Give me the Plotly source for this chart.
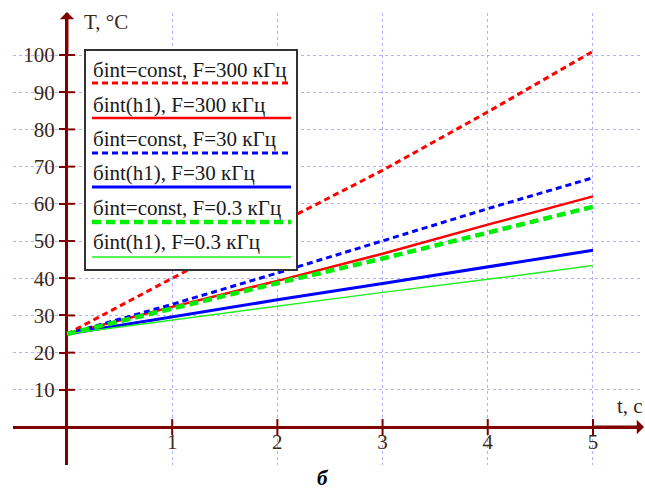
import plotly.graph_objects as go

# ---- data ----
t = [0, 1, 2, 3, 4, 5]
names = [
    "бint=const, F=300 кГц",
    "бint(h1), F=300 кГц",
    "бint=const, F=30 кГц",
    "бint(h1), F=30 кГц",
    "бint=const, F=0.3 кГц",
    "бint(h1), F=0.3 кГц",
]
T_const_300 = [25, 40.0, 54.5, 69.0, 84.7, 101.0]
T_h1_300 = [25, 32.3, 39.3, 46.6, 54.4, 62.0]
T_const_30 = [25, 33.0, 41.4, 50.0, 58.7, 67.0]
T_h1_30 = [25, 29.7, 34.2, 38.6, 43.0, 47.5]
T_const_03 = [25, 32.0, 38.7, 45.3, 52.1, 59.2]
T_h1_03 = [25, 28.8, 32.5, 36.2, 39.7, 43.4]
series = [T_const_300, T_h1_300, T_const_30, T_h1_30, T_const_03, T_h1_03]

x_ticks = [1, 2, 3, 4, 5]
y_ticks = [10, 20, 30, 40, 50, 60, 70, 80, 90, 100]

styles = [
    dict(color="#ff0000", width=3, dash="6px,4px"),
    dict(color="#ff0000", width=2.5, dash="solid"),
    dict(color="#0000ff", width=3, dash="6px,4px"),
    dict(color="#0000ff", width=3, dash="solid"),
    dict(color="#00ee00", width=4.5, dash="9px,5px"),
    dict(color="#22ee22", width=1.5, dash="solid"),
]

AX = "#800000"
TXT = "#3a2818"
FONT = "Liberation Serif, Times New Roman, serif"
FS = 21

XR = [-0.513, 5.447]
YR = [-10.2, 111.29]
L, T_, W, H = 13, 13, 627, 452

def px2x(px):
    return (px - L) / W

def py2y(py):
    return (T_ + H - py) / H

fig = go.Figure()
for s, nm, st in zip(series, names, styles):
    fig.add_trace(go.Scatter(x=t, y=s, mode="lines", name=nm, line=st, hoverinfo="skip"))

xpxu = W / (XR[1] - XR[0])
ypxu = H / (YR[1] - YR[0])

shapes = []
# tick marks crossing the axes
for v in y_ticks:
    shapes.append(dict(type="line", xref="x", yref="y", x0=0, x1=8 / xpxu, y0=v, y1=v,
                       line=dict(color=AX, width=2)))
for v in x_ticks:
    shapes.append(dict(type="line", xref="x", yref="y", x0=v, x1=v, y0=-8 / ypxu, y1=8 / ypxu,
                       line=dict(color=AX, width=2)))

# legend box
lx0, lx1, ly0, ly1 = 85, 297, 50, 270
shapes.append(dict(type="rect", xref="paper", yref="paper", x0=px2x(lx0), x1=px2x(lx1),
                   y0=py2y(ly1), y1=py2y(ly0), fillcolor="white",
                   line=dict(color="#333333", width=2), layer="above"))
text_y = [70, 105, 139, 173, 208, 242]
samp_y = [83, 118, 153, 187, 222, 257]
annotations = []
for nm, st, ty, sy in zip(names, styles, text_y, samp_y):
    annotations.append(dict(text=nm, xref="paper", yref="paper", x=px2x(91), y=py2y(ty),
                            xanchor="left", yanchor="middle", showarrow=False,
                            font=dict(family=FONT, size=FS, color="#1a1a1a")))
    shapes.append(dict(type="line", xref="paper", yref="paper", x0=px2x(92), x1=px2x(291),
                       y0=py2y(sy), y1=py2y(sy), layer="above",
                       line=dict(color=st["color"], width=st["width"], dash=st["dash"])))

# axis arrows
annotations.append(dict(x=0, y=(427 - 12) / 3.72, ax=0, ay=100, xref="x", yref="y",
                        axref="x", ayref="y", text="", showarrow=True, arrowhead=1,
                        arrowsize=0.8, arrowwidth=3, arrowcolor=AX))
annotations.append(dict(x=(644 - 67) / 105.2, y=0, ax=5, ay=0, xref="x", yref="y",
                        axref="x", ayref="y", text="", showarrow=True, arrowhead=1,
                        arrowsize=0.8, arrowwidth=3, arrowcolor=AX))
# axis titles
annotations.append(dict(text="T, °C", xref="paper", yref="paper", x=px2x(82), y=py2y(22),
                        xanchor="left", yanchor="middle", showarrow=False,
                        font=dict(family=FONT, size=FS, color=TXT)))
annotations.append(dict(text="t, с", xref="paper", yref="paper", x=px2x(615), y=py2y(406),
                        xanchor="left", yanchor="middle", showarrow=False,
                        font=dict(family=FONT, size=FS, color=TXT)))
annotations.append(dict(text="<b><i>б</i></b>", xref="paper", yref="paper", x=px2x(323),
                        y=py2y(478), xanchor="center", yanchor="middle", showarrow=False,
                        font=dict(family=FONT, size=FS, color="#000000")))

fig.update_layout(
    width=645, height=491,
    margin=dict(l=L, r=645 - L - W, t=T_, b=491 - T_ - H),
    paper_bgcolor="white", plot_bgcolor="white", showlegend=False,
    xaxis=dict(range=XR, tickvals=x_ticks, ticktext=[str(v) for v in x_ticks],
               showgrid=True, gridcolor="#b0b0ff", griddash="dot", gridwidth=1,
               zeroline=True, zerolinecolor=AX, zerolinewidth=3, showline=False,
               ticks="", anchor="free", position=(465 - 427) / H,
               tickfont=dict(family=FONT, size=FS, color=TXT)),
    yaxis=dict(range=YR, tickvals=y_ticks, ticktext=[str(v) for v in y_ticks],
               showgrid=True, gridcolor="#b0b0ff", griddash="dot", gridwidth=1,
               zeroline=True, zerolinecolor=AX, zerolinewidth=3, showline=False,
               ticks="outside", ticklen=8, tickwidth=2, tickcolor=AX,
               anchor="free", position=(67 - L) / W,
               tickfont=dict(family=FONT, size=FS, color=TXT)),
    shapes=shapes, annotations=annotations,
)

fig.write_html("out.html", config={"displayModeBar": False},
               post_script="document.body.style.margin='0';document.body.style.overflow='hidden';")
